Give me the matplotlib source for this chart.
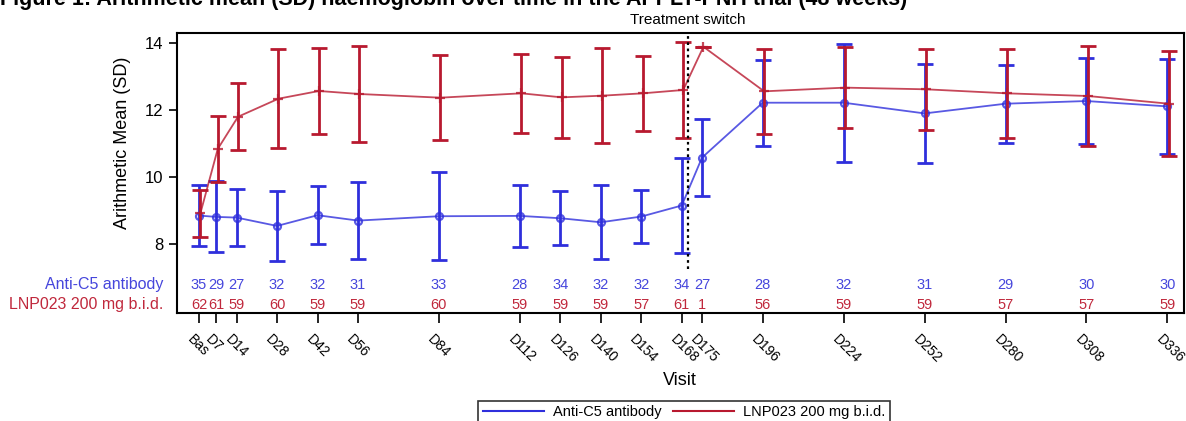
#!/usr/bin/env python3
"""Średnia arytmetyczna (SD) hemoglobiny w czasie - odtworzenie wykresu."""

import matplotlib

matplotlib.use("Agg")
import matplotlib.pyplot as plt
from matplotlib.lines import Line2D
from matplotlib.transforms import ScaledTranslation, blended_transform_factory

plt.rcParams["font.family"] = ["Liberation Sans", "DejaVu Sans"]

# wizyty i ich położenie na osi (dni)
visit_labels = ["Bas", "D7", "D14", "D28", "D42", "D56", "D84", "D112", "D126", "D140",
                "D154", "D168", "D175", "D196", "D224", "D252", "D280", "D308", "D336"]
visit_days = [1, 7, 14, 28, 42, 56, 84, 112, 126, 140, 154, 168, 175, 196, 224, 252, 280, 308, 336]

anti_c5_mean = [8.86, 8.82, 8.80, 8.55, 8.87, 8.71, 8.84, 8.85, 8.78, 8.66,
                8.83, 9.16, 10.59, 12.23, 12.23, 11.91, 12.20, 12.28, 12.12]
anti_c5_sd = [0.90, 1.06, 0.86, 1.05, 0.86, 1.16, 1.31, 0.93, 0.81, 1.11,
              0.80, 1.41, 1.16, 1.29, 1.76, 1.49, 1.17, 1.29, 1.42]
anti_c5_n = [35, 29, 27, 32, 32, 31, 33, 28, 34, 32, 32, 34, 27, 28, 32, 31, 29, 30, 30]

lnp_mean = [8.93, 10.85, 11.81, 12.35, 12.58, 12.49, 12.38, 12.51, 12.39, 12.44,
            12.51, 12.61, 13.90, 12.57, 12.68, 12.63, 12.51, 12.43, 12.20]
lnp_sd = [0.70, 0.99, 1.00, 1.47, 1.27, 1.43, 1.26, 1.17, 1.21, 1.41,
          1.12, 1.43, 0.0, 1.26, 1.20, 1.21, 1.33, 1.50, 1.56]
lnp_n = [62, 61, 59, 60, 59, 59, 60, 59, 59, 59, 57, 61, 1, 56, 59, 59, 57, 57, 59]

switch_day = 170

BLUE = "#2f2fdc"
RED = "#b8192f"
BLUE_TXT = "#4646dc"
RED_TXT = "#c0283c"


def draw_series(ax, days, mean, sd, color, marker, offset, zorder):
    xs = [d + offset for d in days]
    ax.errorbar(xs, mean, yerr=sd, fmt="none", ecolor=color, elinewidth=2.0,
                capsize=5.5, capthick=2.0, zorder=zorder)
    ax.plot(xs, mean, color=color, linewidth=1.3, alpha=0.8, zorder=zorder + 0.5,
            marker=marker, markersize=5 if marker == "o" else 7,
            markerfacecolor=color if marker != "o" else "none",
            markeredgewidth=1.6, markeredgecolor=color)


def main():
    fig = plt.figure(figsize=(11.86, 4.21), dpi=100)
    ax = fig.add_axes([0.149, 0.2565, 0.849, 0.665])

    draw_series(ax, visit_days, anti_c5_mean, anti_c5_sd, BLUE, "o", 0.0, 3)
    draw_series(ax, visit_days, lnp_mean, lnp_sd, RED, "+", 0.5, 4)

    ax.set_xlim(-6.7, 341.6)
    ax.set_ylim(5.95, 14.31)
    ax.set_yticks([8, 10, 12, 14])
    ax.set_yticklabels(["8", "10", "12", "14"], fontsize=12)
    ax.set_ylabel("Arithmetic Mean (SD)", fontsize=13)
    ax.yaxis.set_label_coords(-0.045, 0.607)

    ax.set_xticks(visit_days)
    ax.set_xticklabels(visit_labels, rotation=-45, ha="left", va="top",
                       rotation_mode="anchor", fontsize=10)
    ax.tick_params(axis="x", length=7, width=1.2, pad=7)
    ax.tick_params(axis="y", length=6, width=1.2)
    shift = ScaledTranslation(-3 / 72, 0, fig.dpi_scale_trans)
    for lbl in ax.get_xticklabels():
        lbl.set_transform(lbl.get_transform() + shift)
    ax.set_xlabel("Visit", fontsize=13, labelpad=4)

    for spine in ax.spines.values():
        spine.set_linewidth(1.5)

    # linia zmiany leczenia
    ax.plot([switch_day, switch_day], [7.25, 14.31], color="black", linestyle=(0, (1.2, 1.6)),
            linewidth=1.6, zorder=5, clip_on=False)
    ax.text(switch_day, 14.48, "Treatment switch", ha="center", va="bottom", fontsize=11)

    # liczebności pod wykresem
    blend = blended_transform_factory(ax.transAxes, ax.transData)
    row_blue, row_red = 6.79, 6.19
    ax.text(-0.013, row_blue, "Anti-C5 antibody", transform=blend, ha="right", va="center",
            color=BLUE_TXT, fontsize=11.5)
    ax.text(-0.013, row_red, "LNP023 200 mg b.i.d.", transform=blend, ha="right", va="center",
            color=RED_TXT, fontsize=11.5)
    for day, nb, nr in zip(visit_days, anti_c5_n, lnp_n):
        ax.text(day, row_blue, str(nb), ha="center", va="center", color=BLUE_TXT, fontsize=10.5)
        ax.text(day, row_red, str(nr), ha="center", va="center", color=RED_TXT, fontsize=10.5)

    fig.text(0.0, 1 - 5 / 421, "Figure 1: Arithmetic mean (SD) haemoglobin over time in the "
             "APPLY-PNH trial (48 weeks)", ha="left", va="baseline", fontsize=15.5,
             fontweight="bold")

    handles = [Line2D([], [], color=BLUE, linewidth=1.5),
               Line2D([], [], color=RED, linewidth=1.5)]
    leg = fig.legend(handles, ["Anti-C5 antibody", "LNP023 200 mg b.i.d."], ncol=2,
                     loc="upper center", bbox_to_anchor=(0.5767, 0.0475),
                     bbox_transform=fig.transFigure, frameon=True, fancybox=False,
                     fontsize=10.5, handlelength=4.2, handletextpad=0.6,
                     columnspacing=0.8, borderpad=0.3, borderaxespad=0.0)
    leg.get_frame().set_edgecolor("black")
    leg.get_frame().set_linewidth(1.2)

    fig.savefig("out.png", dpi=100)
    plt.close(fig)


if __name__ == "__main__":
    main()
